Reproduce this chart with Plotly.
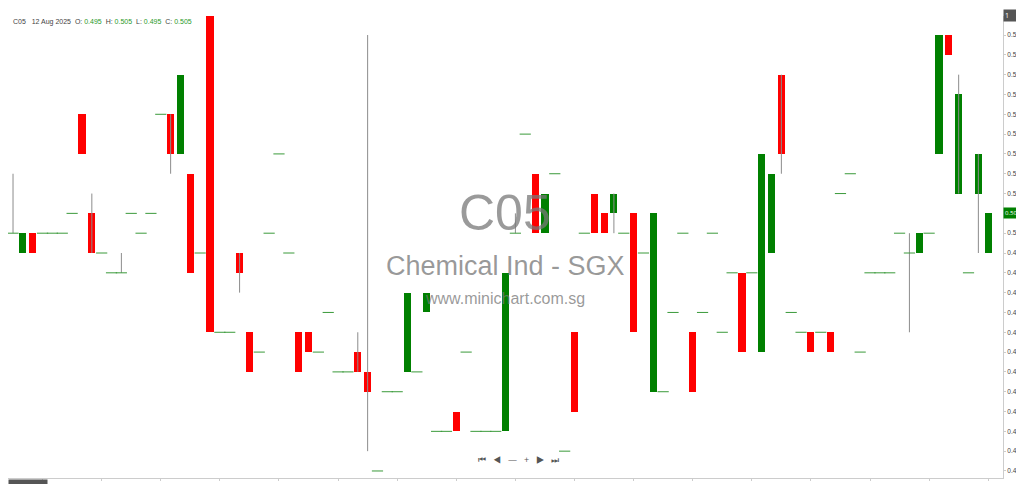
import plotly.graph_objects as go

# daily candles, oldest first: open, high, low, close
opens = [0.500, 0.495, 0.500, 0.500, 0.500, 0.500, 0.505, 0.530, 0.505, 0.495,
         0.490, 0.490, 0.505, 0.500, 0.505, 0.530, 0.530, 0.520, 0.515, 0.495,
         0.555, 0.475, 0.475, 0.495, 0.475, 0.470, 0.500, 0.520, 0.495, 0.475,
         0.475, 0.470, 0.480, 0.465, 0.465, 0.470, 0.465, 0.440, 0.460, 0.460,
         0.465, 0.465, 0.480, 0.450, 0.450, 0.455, 0.470, 0.450, 0.450, 0.450,
         0.450, 0.500, 0.525, 0.515, 0.500, 0.515, 0.445, 0.475, 0.500, 0.510,
         0.505, 0.505, 0.500, 0.505, 0.495, 0.460, 0.460, 0.480, 0.500, 0.475,
         0.480, 0.500, 0.475, 0.490, 0.490, 0.490, 0.470, 0.495, 0.540, 0.480,
         0.475, 0.475, 0.475, 0.475, 0.510, 0.515, 0.470, 0.490, 0.490, 0.490,
         0.500, 0.495, 0.495, 0.500, 0.520, 0.550, 0.510, 0.490, 0.510, 0.495]
closes = [0.500, 0.500, 0.495, 0.500, 0.500, 0.500, 0.505, 0.520, 0.495, 0.495,
          0.490, 0.490, 0.505, 0.500, 0.505, 0.530, 0.520, 0.540, 0.490, 0.495,
          0.475, 0.475, 0.475, 0.490, 0.465, 0.470, 0.500, 0.520, 0.495, 0.465,
          0.470, 0.470, 0.480, 0.465, 0.465, 0.465, 0.460, 0.440, 0.460, 0.460,
          0.485, 0.465, 0.485, 0.450, 0.450, 0.450, 0.470, 0.450, 0.450, 0.450,
          0.490, 0.500, 0.525, 0.500, 0.510, 0.515, 0.445, 0.455, 0.500, 0.500,
          0.500, 0.510, 0.500, 0.475, 0.495, 0.505, 0.460, 0.480, 0.500, 0.460,
          0.480, 0.500, 0.475, 0.490, 0.470, 0.490, 0.520, 0.515, 0.520, 0.480,
          0.475, 0.470, 0.475, 0.470, 0.510, 0.515, 0.470, 0.490, 0.490, 0.490,
          0.500, 0.495, 0.500, 0.500, 0.550, 0.545, 0.535, 0.490, 0.520, 0.505]
highs = [0.515, 0.500, 0.500, 0.500, 0.500, 0.500, 0.505, 0.530, 0.510, 0.495,
         0.490, 0.495, 0.505, 0.500, 0.505, 0.530, 0.530, 0.540, 0.515, 0.495,
         0.555, 0.475, 0.475, 0.495, 0.475, 0.470, 0.500, 0.520, 0.495, 0.475,
         0.475, 0.470, 0.480, 0.465, 0.465, 0.475, 0.550, 0.440, 0.460, 0.460,
         0.485, 0.465, 0.485, 0.450, 0.450, 0.455, 0.470, 0.450, 0.450, 0.450,
         0.490, 0.505, 0.525, 0.515, 0.510, 0.515, 0.445, 0.475, 0.500, 0.510,
         0.505, 0.510, 0.500, 0.505, 0.495, 0.505, 0.460, 0.480, 0.500, 0.475,
         0.480, 0.500, 0.475, 0.490, 0.490, 0.490, 0.520, 0.515, 0.540, 0.480,
         0.475, 0.475, 0.475, 0.475, 0.510, 0.515, 0.470, 0.490, 0.490, 0.490,
         0.500, 0.500, 0.500, 0.500, 0.550, 0.550, 0.540, 0.490, 0.520, 0.505]
lows = [0.500, 0.495, 0.495, 0.500, 0.500, 0.500, 0.505, 0.520, 0.495, 0.495,
        0.490, 0.490, 0.505, 0.500, 0.505, 0.530, 0.515, 0.520, 0.490, 0.495,
        0.475, 0.475, 0.475, 0.485, 0.465, 0.470, 0.500, 0.520, 0.495, 0.465,
        0.470, 0.470, 0.480, 0.465, 0.465, 0.465, 0.445, 0.440, 0.460, 0.460,
        0.465, 0.465, 0.480, 0.450, 0.450, 0.450, 0.470, 0.450, 0.450, 0.450,
        0.450, 0.500, 0.525, 0.500, 0.500, 0.515, 0.445, 0.455, 0.500, 0.500,
        0.500, 0.500, 0.500, 0.475, 0.495, 0.460, 0.460, 0.480, 0.500, 0.460,
        0.480, 0.500, 0.475, 0.490, 0.470, 0.490, 0.470, 0.495, 0.515, 0.480,
        0.475, 0.470, 0.475, 0.470, 0.510, 0.515, 0.470, 0.490, 0.490, 0.490,
        0.500, 0.475, 0.495, 0.500, 0.520, 0.545, 0.510, 0.490, 0.495, 0.495]

tick_pos = [3, 9, 15, 21, 27, 33, 39, 45, 51, 57, 63, 69, 75, 81, 87, 93, 99]
tick_text = ["Aug 2024", "9 Sep", "3 Oct", "30", "18 Nov", "12 Dec", "9 Jan 2025",
             "10 Feb", "5 Mar", "27", "7 Apr", "28", "2 Jun", "27", "11 Jul", "23", "12 Aug"]

GREEN = "#008000"
RED = "#ff0000"

idx = list(range(len(opens)))

# wicks
wx, wy = [], []
for i in idx:
    if highs[i] > max(opens[i], closes[i]) or lows[i] < min(opens[i], closes[i]):
        wx += [i, i, None]
        wy += [lows[i], highs[i], None]

fig = go.Figure()
fig.add_trace(go.Scatter(x=wx, y=wy, mode="lines", line=dict(color="#8c8c8c", width=1),
                         hoverinfo="skip", showlegend=False))

bx, bbase, bh, bcol = [], [], [], []
dx, dy = [], []
for i in idx:
    if opens[i] == closes[i]:
        dx.append(i)
        dy.append(opens[i])
    else:
        bx.append(i)
        bbase.append(min(opens[i], closes[i]))
        bh.append(abs(closes[i] - opens[i]))
        bcol.append(GREEN if closes[i] > opens[i] else RED)

fig.add_trace(go.Bar(x=bx, y=bh, base=bbase, width=0.72,
                     marker=dict(color=bcol, line=dict(width=0)), showlegend=False))
fig.add_trace(go.Scatter(x=dx, y=dy, mode="markers",
                         marker=dict(symbol="line-ew", size=8,
                                     line=dict(color="#3a9a3a", width=1)),
                         showlegend=False))

PW, PT, PH = 995, 8, 462

# watermark
annots = [
    dict(x=497, y=205, text="C05", size=50),
    dict(x=497, y=258, text="Chemical Ind - SGX", size=27),
    dict(x=497, y=290, text="www.minichart.com.sg", size=16),
]
for a in annots:
    fig.add_annotation(x=a["x"] / PW, y=1 - (a["y"] - PT) / PH, xref="paper", yref="paper",
                       text=a["text"], showarrow=False,
                       font=dict(size=a["size"], color="rgba(120,120,120,0.75)",
                                 family="Liberation Sans"))

# header
fig.add_annotation(x=0.003, y=1.0, xref="paper", yref="paper", xanchor="left", yanchor="top",
                   showarrow=False,
                   text="C05 &nbsp;&nbsp;12 Aug 2025 &nbsp;O: <span style='color:#2a9a2a'>0.495</span>"
                        " &nbsp;H: <span style='color:#2a9a2a'>0.505</span>"
                        " &nbsp;L: <span style='color:#2a9a2a'>0.495</span>"
                        " &nbsp;C: <span style='color:#2a9a2a'>0.505</span>",
                   font=dict(size=7, color="#444444", family="Liberation Sans"))

# nav buttons
fig.add_annotation(x=510 / PW, y=1 - (460 - PT) / PH, xref="paper", yref="paper", showarrow=False,
                   text="⏮ &nbsp;&nbsp;◀ &nbsp;&nbsp;— &nbsp;&nbsp;+ &nbsp;&nbsp;▶ &nbsp;&nbsp;⏭",
                   font=dict(size=9, color="#555555"))

# last price tag
fig.add_annotation(x=1.0, y=0.505, xref="paper", yref="y", xanchor="left", showarrow=False,
                   text="0.505", bgcolor=GREEN, font=dict(size=6, color="white"), borderpad=1)
# corner boxes
fig.add_annotation(x=1.0, y=1.0, xref="paper", yref="paper", xanchor="left", yanchor="bottom",
                   showarrow=False, text="1 &nbsp;&nbsp;&nbsp;&nbsp;&nbsp;&nbsp;", bgcolor="#555555",
                   font=dict(size=7, color="white"), yshift=-6)
fig.add_annotation(x=0.0, y=0.0, xref="paper", yref="paper", xanchor="left", yanchor="top",
                   showarrow=False, text="1 Jan 1970", bgcolor="#555555",
                   font=dict(size=7, color="white"), borderpad=2, yshift=-1)

fig.update_layout(
    width=1024, height=484,
    margin=dict(l=0, r=29, t=PT, b=14, autoexpand=False),
    paper_bgcolor="white", plot_bgcolor="white",
    bargap=0,
    xaxis=dict(range=[-0.51, 100.5], tickmode="array", tickvals=tick_pos, ticktext=tick_text,
               showgrid=False, zeroline=False, showline=True, linecolor="#cccccc",
               ticks="outside", ticklen=2, tickcolor="#cccccc", automargin=False,
               ticklabelstandoff=0,
               tickfont=dict(size=7, color="#444444", family="Liberation Sans")),
    yaxis=dict(range=[0.43823, 0.5548], side="right", dtick=0.005, tick0=0.44,
               tickformat=".3f", showgrid=False, zeroline=False, showline=True,
               linecolor="#cccccc", ticks="outside", ticklen=2, tickcolor="#cccccc",
               automargin=False, ticklabelstandoff=0,
               tickfont=dict(size=6.5, color="#444444", family="Liberation Sans")),
)

fig.write_html("out.html")
